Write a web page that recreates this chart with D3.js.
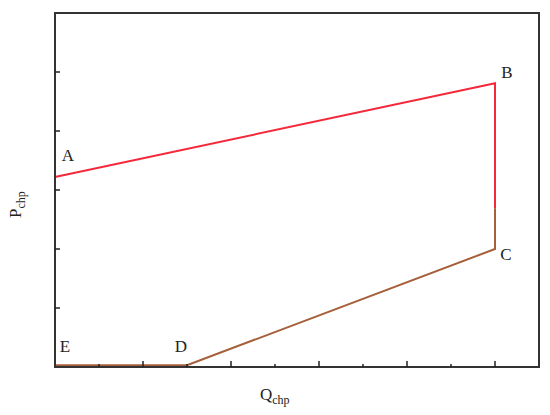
<!DOCTYPE html>
<html>
<head>
<meta charset="utf-8">
<script src="https://cdn.jsdelivr.net/npm/d3@7"></script>
<style>
  body { margin: 0; background: #fff; }
  svg { display: block; }
  text { font-family: "Liberation Serif", "DejaVu Serif", serif; fill: #222; }
</style>
</head>
<body>
<svg id="chart"></svg>
<script>
// operating region corners, Q on x, P on y
const pointNames = ["A", "B", "C", "D", "E"]
const qValues = [0, 10, 10, 3, 0]
const pValues = [3.22, 4.81, 2.0, 0.03, 0.03]
// where the red upper edge meets the brown lower edge on B-C
const splitP = 2.69

const xTickValues = d3.range(0, 12)
const yTickValues = d3.range(0, 7)

const width = 550,
  height = 415
const margin = { top: 13, right: 11, bottom: 48, left: 55 }

const svg = d3.select("#chart").attr("width", width).attr("height", height)

const x = d3
  .scaleLinear()
  .domain([0, 11])
  .range([margin.left, width - margin.right])
const y = d3
  .scaleLinear()
  .domain([0, 6])
  .range([height - margin.bottom, margin.top])

const line = d3
  .line()
  .x(d => x(d[0]))
  .y(d => y(d[1]))

const pts = pointNames.map((n, i) => [qValues[i], pValues[i]])

// upper edge: A -> B -> down toward C
const redPath = [pts[0], pts[1], [qValues[1], splitP]]
// lower edge: split -> C -> D -> E
const brownPath = [[qValues[2], splitP], pts[2], pts[3], pts[4]]

svg
  .append("path")
  .attr("d", line(brownPath))
  .attr("fill", "none")
  .attr("stroke", "#a65f3a")
  .attr("stroke-width", 2)

svg
  .append("path")
  .attr("d", line(redPath))
  .attr("fill", "none")
  .attr("stroke", "#f5283a")
  .attr("stroke-width", 2)

// frame
svg
  .append("rect")
  .attr("x", x(0))
  .attr("y", y(6))
  .attr("width", x(11) - x(0))
  .attr("height", y(0) - y(6))
  .attr("fill", "none")
  .attr("stroke", "#333")
  .attr("stroke-width", 2)

// bottom ticks, inside, majors on even values
svg
  .append("g")
  .selectAll("line")
  .data(xTickValues.slice(1, -1))
  .join("line")
  .attr("x1", d => x(d))
  .attr("x2", d => x(d))
  .attr("y1", y(0))
  .attr("y2", d => y(0) - (d % 2 === 0 ? 6 : 3))
  .attr("stroke", "#222")
  .attr("stroke-width", 1.5)

// left ticks, inside
svg
  .append("g")
  .selectAll("line")
  .data(yTickValues.slice(1, -1))
  .join("line")
  .attr("x1", x(0))
  .attr("x2", x(0) + 5)
  .attr("y1", d => y(d))
  .attr("y2", d => y(d))
  .attr("stroke", "#222")
  .attr("stroke-width", 1.5)

// corner labels
const labelOffsets = {
  A: [13, -20],
  B: [12, -9],
  C: [11, 7],
  D: [-6, -17],
  E: [10, -17],
}
svg
  .append("g")
  .selectAll("text")
  .data(pointNames)
  .join("text")
  .attr("x", (d, i) => x(qValues[i]) + labelOffsets[d][0])
  .attr("y", (d, i) => y(pValues[i]) + labelOffsets[d][1])
  .attr("text-anchor", "middle")
  .attr("dominant-baseline", "middle")
  .style("font-size", "17px")
  .text(d => d)

// axis titles
const xt = svg
  .append("text")
  .attr("x", 260)
  .attr("y", 400)
  .style("font-size", "17px")
xt.append("tspan").text("Q")
xt.append("tspan").attr("dy", 4).style("font-size", "12px").text("chp")

const yt = svg
  .append("text")
  .attr("transform", "translate(21, 218) rotate(-90)")
  .style("font-size", "17px")
yt.append("tspan").text("P")
yt.append("tspan").attr("dy", 4).style("font-size", "12px").text("chp")
</script>
</body>
</html>
